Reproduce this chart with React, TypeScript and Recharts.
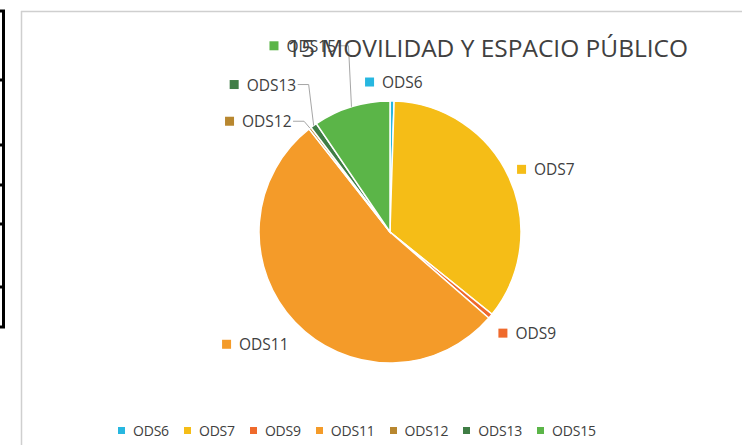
import { PieChart, Pie, Cell } from 'recharts'

const names = ['ODS6', 'ODS7', 'ODS9', 'ODS11', 'ODS12', 'ODS13', 'ODS15']
const values = [0.5, 35.3, 0.6, 53.0, 0.3, 0.8, 9.5]
const COLORS = ['#27b7e0', '#f5bd17', '#ef6a2c', '#f49b29', '#b8872f', '#3f7d45', '#5bb548']
const TITLE = '15 MOVILIDAD Y ESPACIO PÚBLICO'

// rows of the sheet table peeking in on the left
const tableRows = [11, 80, 145, 185, 224, 287, 327]

const data = names.map((name, i) => ({ name, value: values[i] }))

// where each data label sits, relative to the slice's outer edge point
const LABEL_POS: Record<string, { dx: number; dy: number; leader?: boolean }> = {
  ODS6: { dx: -27, dy: -19 },
  ODS7: { dx: 8, dy: -8 },
  ODS9: { dx: 8, dy: 17 },
  ODS11: { dx: -73, dy: 22 },
  ODS12: { dx: -85, dy: -7, leader: true },
  ODS13: { dx: -84, dy: -41, leader: true },
  ODS15: { dx: -82, dy: -61, leader: true },
}

const FONT = '"Open Sans", "Noto Sans", sans-serif'
const TEXT = '#404040'

const renderLabel = (props: any) => {
  const { cx, cy, midAngle, outerRadius, index } = props
  const name = names[index]
  const RAD = Math.PI / 180
  const ox = cx + outerRadius * Math.cos(-midAngle * RAD)
  const oy = cy + outerRadius * Math.sin(-midAngle * RAD)
  const p = LABEL_POS[name]
  const x = ox + p.dx
  const y = oy + p.dy
  return (
    <g key={name}>
      {p.leader && (
        <polyline points={`${ox},${oy} ${x + 79},${y} ${x + 68},${y}`} stroke="#a6a6a6" strokeWidth={1} fill="none" />
      )}
      <rect x={x} y={y - 4.5} width={9} height={9} fill={COLORS[index]} />
      <text x={x + 17} y={y} dominantBaseline="central" fontSize={15.5} fontFamily={FONT} fill={TEXT}>
        {name}
      </text>
    </g>
  )
}

export default function App() {
  return (
    <div style={{ position: 'absolute', left: 0, top: 0, width: 742, height: 445, overflow: 'hidden', background: '#fff', fontFamily: FONT }}>
      <svg width={742} height={445} style={{ position: 'absolute', left: 0, top: 0 }}>
        <line x1={21.5} y1={11} x2={21.5} y2={445} stroke="#cfcfcf" strokeWidth={1.5} />
        <line x1={21} y1={11.5} x2={742} y2={11.5} stroke="#cfcfcf" strokeWidth={1.5} />
        <line x1={3.5} y1={10} x2={3.5} y2={328} stroke="#000" strokeWidth={3} />
        {tableRows.map((y) => (
          <line key={y} x1={0} y1={y} x2={5} y2={y} stroke="#000" strokeWidth={3} />
        ))}
      </svg>

      <div style={{ position: 'absolute', left: 0, top: 0 }}>
        <PieChart width={742} height={445} margin={{ top: 0, right: 0, bottom: 0, left: 0 }}>
          <Pie
            data={data}
            dataKey="value"
            nameKey="name"
            cx={390}
            cy={232}
            outerRadius={131}
            startAngle={90}
            endAngle={-270}
            stroke="#fff"
            strokeWidth={1.5}
            label={renderLabel}
            labelLine={false}
            isAnimationActive={false}
          >
            {data.map((_, i) => (
              <Cell key={i} fill={COLORS[i]} />
            ))}
          </Pie>
        </PieChart>
      </div>

      <svg width={742} height={445} style={{ position: 'absolute', left: 0, top: 0, pointerEvents: 'none' }}>
        <text x={287} y={47} dominantBaseline="central" fontSize={24} fontFamily={FONT} fill={TEXT} textLength={401} lengthAdjust="spacingAndGlyphs">
          {TITLE}
        </text>
      </svg>

      <div style={{ position: 'absolute', left: 118, top: 421, display: 'flex', alignItems: 'center', fontSize: 14, color: TEXT, whiteSpace: 'nowrap' }}>
        {names.map((n, i) => (
          <div key={n} style={{ display: 'flex', alignItems: 'center', marginRight: 15 }}>
            <span style={{ display: 'inline-block', width: 7, height: 7, background: COLORS[i], marginRight: 8 }} />
            <span style={{ letterSpacing: -0.2 }}>{n}</span>
          </div>
        ))}
      </div>
    </div>
  )
}
